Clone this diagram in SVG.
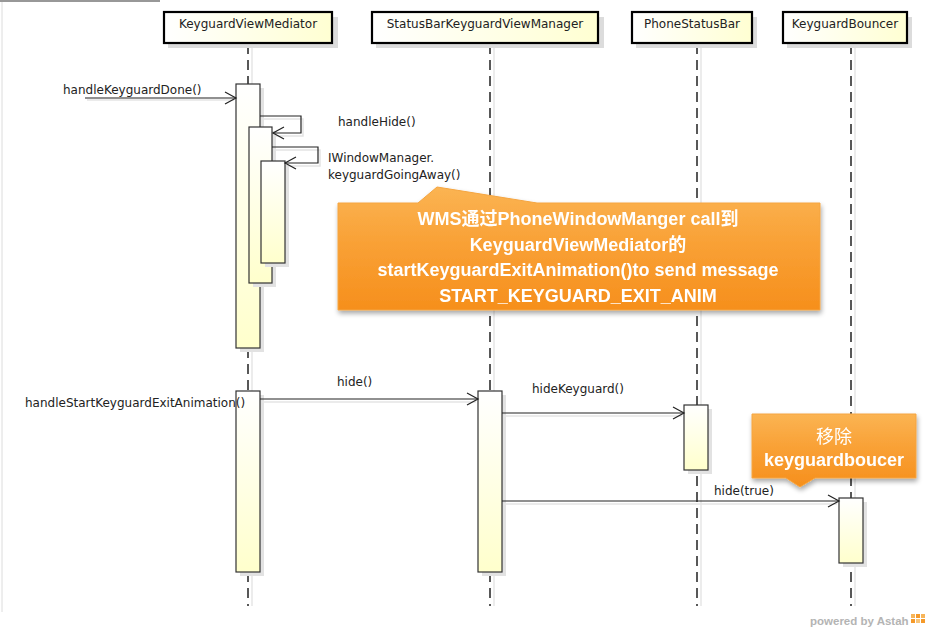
<svg xmlns="http://www.w3.org/2000/svg" width="932" height="632" viewBox="0 0 932 632">
<defs>
<linearGradient id="headFill" x1="0" y1="0" x2="1" y2="0">
<stop offset="0" stop-color="#ffffff"/><stop offset="1" stop-color="#ffffd2"/>
</linearGradient>
<linearGradient id="actFill" x1="0" y1="0" x2="0" y2="1">
<stop offset="0" stop-color="#ffffff"/><stop offset="1" stop-color="#ffffcc"/>
</linearGradient>
<linearGradient id="noteFill" x1="0" y1="0" x2="0" y2="1">
<stop offset="0" stop-color="#fbb453"/><stop offset="0.45" stop-color="#f9a136"/><stop offset="1" stop-color="#f68f1c"/>
</linearGradient>
<filter id="noteShadow" x="-10%" y="-20%" width="120%" height="150%">
<feGaussianBlur in="SourceAlpha" stdDeviation="2.5"/>
<feOffset dx="1" dy="3" result="b"/>
<feComponentTransfer><feFuncA type="linear" slope="0.35"/></feComponentTransfer>
<feMerge><feMergeNode/><feMergeNode in="SourceGraphic"/></feMerge>
</filter>
<marker id="open" markerWidth="14" markerHeight="14" refX="12" refY="7" orient="auto" markerUnits="userSpaceOnUse">
<path d="M1,1 L12,7 L1,13" fill="none" stroke="#222" stroke-width="1.2"/>
</marker>
</defs>
<style>
.head{fill:url(#headFill);stroke:#000;stroke-width:2.2}
.hshadow{fill:#dcdcdc}
.act{fill:url(#actFill);stroke:#333;stroke-width:1.2}
.ashadow{fill:#e2e2e2}
.life{stroke:#222;stroke-width:1.5;stroke-dasharray:10 6;fill:none}
.lshadow{stroke:#e6e6e6;stroke-width:1.5;fill:none}
.msg{stroke:#222;stroke-width:1.2;fill:none}
.mshadow{stroke:#e4e4e4;stroke-width:1.5;fill:none}
.t{font-family:"DejaVu Sans","Liberation Sans",sans-serif;font-size:12px;fill:#222}
.nt{font-family:"Liberation Sans","Noto Sans CJK SC",sans-serif;font-size:18px;font-weight:bold;fill:#ffffff;text-anchor:middle}
.note{fill:url(#noteFill);stroke:#f5a540;stroke-width:1}
</style>
<rect x="0" y="0" width="932" height="632" fill="#ffffff"/>
<line x1="0" y1="1" x2="160" y2="1" stroke="#333" stroke-width="1.2"/>
<line x1="2" y1="2" x2="2" y2="612" stroke="#dcdcdc" stroke-width="1"/>

<g id="lifelines">
<line class="lshadow" x1="252" y1="48" x2="252" y2="606"/>
<line class="lshadow" x1="494" y1="48" x2="494" y2="606"/>
<line class="lshadow" x1="701" y1="48" x2="701" y2="606"/>
<line class="lshadow" x1="855" y1="48" x2="855" y2="606"/>
<line class="life" x1="248" y1="44" x2="248" y2="606"/>
<line class="life" x1="490" y1="44" x2="490" y2="606"/>
<line class="life" x1="697" y1="44" x2="697" y2="606"/>
<line class="life" x1="851" y1="44" x2="851" y2="606"/>
</g>

<g id="KeyguardViewMediator">
<rect class="hshadow" x="168" y="17" width="170" height="31"/>
<rect class="head" x="164" y="12" width="168" height="31"/>
<text class="t" x="248" y="28" text-anchor="middle">KeyguardViewMediator</text>
</g>
<g id="StatusBarKeyguardViewManager">
<rect class="hshadow" x="376" y="17" width="228" height="31"/>
<rect class="head" x="372" y="12" width="226" height="31"/>
<text class="t" x="485" y="28" text-anchor="middle">StatusBarKeyguardViewManager</text>
</g>
<g id="PhoneStatusBar">
<rect class="hshadow" x="636" y="17" width="121" height="31"/>
<rect class="head" x="632" y="12" width="120" height="31"/>
<text class="t" x="692" y="28" text-anchor="middle">PhoneStatusBar</text>
</g>
<g id="KeyguardBouncer">
<rect class="hshadow" x="787" y="17" width="125" height="31"/>
<rect class="head" x="783" y="12" width="124" height="31"/>
<text class="t" x="845" y="28" text-anchor="middle">KeyguardBouncer</text>
</g>

<g id="activations">
<rect class="ashadow" x="240" y="88" width="24" height="264"/>
<rect class="act" x="236" y="84" width="24" height="264"/>
<rect class="ashadow" x="253" y="131" width="23" height="156"/>
<rect class="act" x="249" y="127" width="23" height="156"/>
<rect class="ashadow" x="265" y="165" width="24" height="102"/>
<rect class="act" x="261" y="161" width="24" height="102"/>
<rect class="ashadow" x="240" y="395" width="24" height="181"/>
<rect class="act" x="236" y="391" width="24" height="181"/>
<rect class="ashadow" x="482" y="395" width="24" height="181"/>
<rect class="act" x="478" y="391" width="24" height="181"/>
<rect class="ashadow" x="688" y="409" width="24" height="65"/>
<rect class="act" x="684" y="405" width="24" height="65"/>
<rect class="ashadow" x="843" y="502" width="24" height="65"/>
<rect class="act" x="839" y="498" width="24" height="65"/>
</g>

<g id="connectors">
<line class="mshadow" x1="87" y1="100" x2="234" y2="100"/>
<line class="msg" x1="85" y1="98" x2="236" y2="98" marker-end="url(#open)"/>
<polyline class="mshadow" points="262,119 303,119 303,136 276,136"/>
<polyline class="msg" points="260,116 301,116 301,133 273,133" marker-end="url(#open)"/>
<polyline class="mshadow" points="274,150 320,150 320,166 288,166"/>
<polyline class="msg" points="272,147 318,147 318,163 285,163" marker-end="url(#open)"/>
<line class="mshadow" x1="262" y1="402" x2="476" y2="402"/>
<line class="msg" x1="260" y1="399" x2="478" y2="399" marker-end="url(#open)"/>
<line class="mshadow" x1="504" y1="416" x2="682" y2="416"/>
<line class="msg" x1="502" y1="413" x2="684" y2="413" marker-end="url(#open)"/>
<line class="mshadow" x1="504" y1="504" x2="837" y2="504"/>
<line class="msg" x1="502" y1="501" x2="839" y2="501" marker-end="url(#open)"/>
</g>

<g id="labels">
<text class="t" x="63" y="94">handleKeyguardDone()</text>
<text class="t" x="338" y="126">handleHide()</text>
<text class="t" x="328" y="162">IWindowManager.</text>
<text class="t" x="328" y="179">keyguardGoingAway()</text>
<text class="t" x="25" y="407">handleStartKeyguardExitAnimation()</text>
<text class="t" x="337" y="386">hide()</text>
<text class="t" x="532" y="393">hideKeyguard()</text>
<text class="t" x="714" y="495">hide(true)</text>
</g>

<g id="note1" filter="url(#noteShadow)">
<path class="note" d="M338,203 L418,203 L437,187 L537,203 L820,203 L820,310 L338,310 Z"/>
<text class="nt" x="578" y="225">WMS通过PhoneWindowManger  call到</text>
<text class="nt" x="578" y="251">KeyguardViewMediator的</text>
<text class="nt" x="578" y="276">startKeyguardExitAnimation()to  send message</text>
<text class="nt" x="578" y="302">START_KEYGUARD_EXIT_ANIM</text>
</g>

<g id="note2" filter="url(#noteShadow)">
<path class="note" d="M752,414 L916,414 L916,478 L815,478 L800,487 L786,478 L752,478 Z"/>
<text class="nt" x="834" y="443" style="font-weight:normal">移除</text>
<text class="nt" x="834" y="466">keyguardboucer</text>
</g>

<g id="footer">
<text x="810" y="625" font-family="'Liberation Sans',sans-serif" font-size="11.5px" font-weight="bold" fill="#b4b4b4">powered by Astah</text>
<rect x="911" y="614" width="4" height="4" fill="#f7b55a"/>
<rect x="916" y="614" width="4" height="4" fill="#f59a2a"/>
<rect x="921" y="614" width="4" height="4" fill="#f7b55a"/>
<rect x="911" y="619" width="4" height="4" fill="#f59a2a"/>
<rect x="916" y="619" width="4" height="4" fill="#f7c47a"/>
<rect x="921" y="619" width="4" height="4" fill="#f59a2a"/>
</g>
</svg>
